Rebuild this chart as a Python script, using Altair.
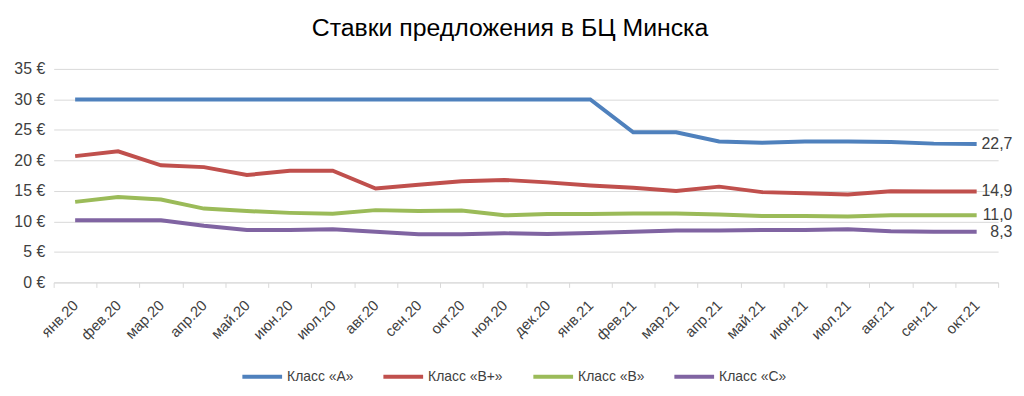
import altair as alt
import pandas as pd

months = ["янв.20", "фев.20", "мар.20", "апр.20", "май.20", "июн.20", "июл.20", "авг.20",
          "сен.20", "окт.20", "ноя.20", "дек.20", "янв.21", "фев.21", "мар.21", "апр.21",
          "май.21", "июн.21", "июл.21", "авг.21", "сен.21", "окт.21"]
series_names = ["Класс «А»", "Класс «В+»", "Класс «В»", "Класс «С»"]
class_a = [30, 30, 30, 30, 30, 30, 30, 30, 30, 30, 30, 30, 30,
           24.6, 24.6, 23.1, 22.9, 23.1, 23.1, 23.0, 22.75, 22.7]
class_bp = [20.7, 21.5, 19.2, 18.9, 17.6, 18.3, 18.3, 15.4, 16.0, 16.6, 16.8,
            16.4, 15.9, 15.5, 15.0, 15.7, 14.8, 14.6, 14.4, 14.95, 14.9, 14.9]
class_b = [13.2, 14.0, 13.6, 12.1, 11.7, 11.4, 11.25, 11.85, 11.7, 11.8, 11.0,
           11.2, 11.2, 11.3, 11.3, 11.15, 10.9, 10.9, 10.8, 11.0, 11.0, 11.0]
class_c = [10.2, 10.2, 10.2, 9.3, 8.6, 8.6, 8.7, 8.3, 7.9, 7.9, 8.05,
           7.95, 8.1, 8.3, 8.5, 8.5, 8.6, 8.6, 8.7, 8.4, 8.3, 8.3]
colors = ["#4F81BD", "#C0504D", "#9BBB59", "#8064A2"]

rows = []
for name, vals in zip(series_names, [class_a, class_bp, class_b, class_c]):
    for m, v in zip(months, vals):
        rows.append({"month": m, "series": name, "value": v})
df = pd.DataFrame(rows)

FONT = "Liberation Sans"

x = alt.X("month:N", sort=months, bandPosition=0.5,
          scale=alt.Scale(type="band", paddingInner=0, paddingOuter=0),
          axis=alt.Axis(title=None, labelAngle=-45, labelAlign="right", labelBaseline="middle",
                        labelPadding=15, labelFontSize=15, labelFont=FONT, labelColor="#404040",
                        tickBand="extent", tickSize=5, tickColor="#D9D9D9",
                        domainColor="#D9D9D9", grid=False, labelOverlap=False))
y = alt.Y("value:Q", scale=alt.Scale(domain=[0, 35], nice=False),
          axis=alt.Axis(title=None, values=[0, 5, 10, 15, 20, 25, 30, 35],
                        labelExpr="datum.value + ' €'", labelFontSize=16, labelFont=FONT,
                        labelColor="#404040", labelPadding=9,
                        domain=False, ticks=False, gridColor="#D9D9D9", gridWidth=1))
color = alt.Color("series:N", scale=alt.Scale(domain=series_names, range=colors),
                  legend=alt.Legend(title=None, orient="none", direction="horizontal",
                                    legendX=188, legendY=288, symbolType="stroke",
                                    symbolStrokeWidth=4, symbolSize=1600,
                                    labelFontSize=14, labelFont=FONT, labelColor="#404040",
                                    columnPadding=22, labelOffset=3))

lines = alt.Chart(df).mark_line(strokeWidth=4).encode(x=x, y=y, color=color)

labels = alt.Chart(df).transform_filter(
    alt.datum.month == months[-1]
).transform_calculate(
    lab="replace(format(datum.value, '.1f'), '.', ',')"
).mark_text(align="right", baseline="middle", dx=36, fontSize=16, font=FONT, color="#404040").encode(
    x=x, y=y, text="lab:N"
)

chart = alt.layer(lines, labels).properties(
    width=951, height=215,
    title=alt.TitleParams("Ставки предложения в БЦ Минска", fontSize=25, font=FONT,
                          fontWeight="normal", color="#000000", anchor="middle", offset=20, dx=-16),
    autosize=alt.AutoSizeParams(type="none"),
    padding={"left": 46, "top": 60, "right": 18, "bottom": 105},
).configure_view(stroke=None)

chart.save("out.html", embed_options={"renderer": "svg", "actions": False})
